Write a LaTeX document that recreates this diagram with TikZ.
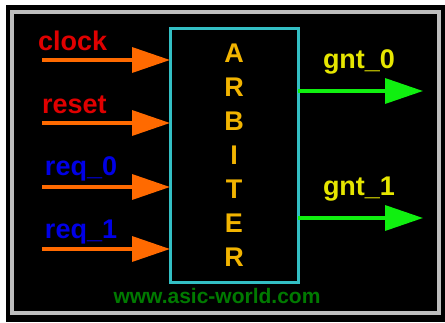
\documentclass[tikz,border=0pt]{standalone}
\usepackage{fontspec}
\setmainfont{Liberation Sans}
\usepackage{xcolor}
\usepackage{tikz}
\usetikzlibrary{arrows.meta, positioning}

\definecolor{sigred}{HTML}{E00000}
\definecolor{sigblue}{HTML}{0000E6}
\definecolor{inorange}{HTML}{FF6A00}
\definecolor{outgreen}{HTML}{10F010}
\definecolor{gntyellow}{HTML}{E6E600}
\definecolor{arbgold}{HTML}{F2B400}
\definecolor{boxcyan}{HTML}{33BFC4}
\definecolor{urlgreen}{HTML}{007A00}
\definecolor{framegray}{HTML}{BEBEBE}

\begin{document}
\begin{tikzpicture}[
    x=1pt, y=-1pt,
    every node/.style={inner sep=0pt, outer sep=0pt, font=\fontsize{27}{32}\selectfont\bfseries},
    block/.style={draw=boxcyan, line width=3pt, minimum width=128pt, minimum height=254pt, align=center, text=arbgold, font=\fontsize{27}{34}\selectfont\bfseries},
    inlbl/.style={anchor=base west},
    outlbl/.style={anchor=base west, text=gntyellow},
    inarrow/.style={draw=inorange, line width=3.5pt, -{Triangle[length=38pt, width=25pt]}},
    outarrow/.style={draw=outgreen, line width=3.5pt, -{Triangle[length=38pt, width=25pt]}}
]
\useasboundingbox (0,0) rectangle (445,322);
\fill[white] (0,0) rectangle (445,322);
\fill[black] (6,5) rectangle (445,322);
\draw[framegray, line width=3.5pt] (12,12) rectangle (439,313);

% block
\node[block] (arb) at (234,155) {A\\R\\B\\I\\T\\E\\R};

% inputs
\coordinate (clkin) at (42,60);
\coordinate (rstin) at (42,123);
\coordinate (req0in) at (42,187);
\coordinate (req1in) at (42,249);
\node[inlbl, text=sigred] (clklbl) at (38,50) {clock};
\node[inlbl, text=sigred] (rstlbl) at (42,113) {reset};
\node[inlbl, text=sigblue] (req0lbl) at (45,175) {req\_0};
\node[inlbl, text=sigblue] (req1lbl) at (45,238) {req\_1};
\draw[inarrow] (clkin) -- (clkin -| arb.west);
\draw[inarrow] (rstin) -- (rstin -| arb.west);
\draw[inarrow] (req0in) -- (req0in -| arb.west);
\draw[inarrow] (req1in) -- (req1in -| arb.west);

% outputs
\coordinate (gnt0out) at (423,91);
\coordinate (gnt1out) at (423,218);
\node[outlbl] (gnt0lbl) at (323,68) {gnt\_0};
\node[outlbl] (gnt1lbl) at (323,195) {gnt\_1};
\draw[outarrow] (arb.east |- gnt0out) -- (gnt0out);
\draw[outarrow] (arb.east |- gnt1out) -- (gnt1out);

% footer
\node[anchor=base, text=urlgreen, font=\fontsize{21}{25}\selectfont\bfseries] (url) at (217,303) {www.asic-world.com};
\end{tikzpicture}
\end{document}
